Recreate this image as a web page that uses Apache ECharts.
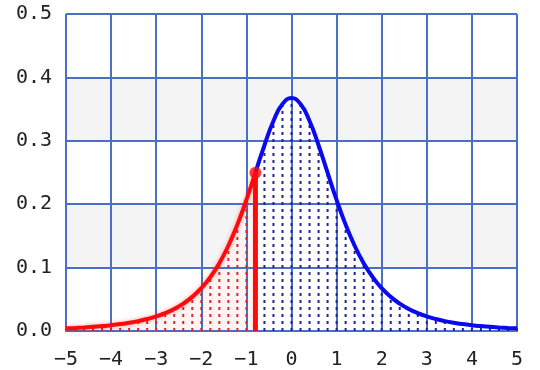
<!DOCTYPE html>
<html><head><meta charset="utf-8">
<script src="https://cdn.jsdelivr.net/npm/echarts@6/dist/echarts.min.js"></script>
<style>html,body{margin:0;padding:0;background:#fff}#c{width:540px;height:370px}</style>
</head><body><div id="c"></div>
<script>
const xValues = [-5,-4.8,-4.6,-4.4,-4.2,-4,-3.8,-3.6,-3.4,-3.2,-3,-2.8,-2.6,-2.4,-2.2,-2,-1.8,-1.6,-1.4,-1.2,-1,-0.8,-0.6,-0.4,-0.2,0,
  0.2,0.4,0.6,0.8,1,1.2,1.4,1.6,1.8,2,2.2,2.4,2.6,2.8,3,3.2,3.4,3.6,3.8,4,4.2,4.4,4.6,4.8,5];
const yValues = [0.0042,0.0049,0.0057,0.0066,0.0078,0.0092,0.0109,0.0130,0.0156,0.0189,0.0230,0.0282,0.0347,0.0431,0.0538,0.0675,0.0850,0.1070,0.1345,0.1678,0.2067,0.2497,0.2930,0.3313,0.3580,0.3676,
  0.3580,0.3313,0.2930,0.2497,0.2067,0.1678,0.1345,0.1070,0.0850,0.0675,0.0538,0.0431,0.0347,0.0282,0.0230,0.0189,0.0156,0.0130,0.0109,0.0092,0.0078,0.0066,0.0057,0.0049,0.0042];
const splitX = -0.8;
const xRange = [-5, 5, 1];
const yRange = [0, 0.5, 0.1];

const pts = xValues.map((x, i) => [x, yValues[i]]);
const eps = 1e-9;
const leftPts = pts.filter(p => p[0] <= splitX + eps);
const rightPts = pts.filter(p => p[0] >= splitX - eps);
const splitPt = pts.find(p => Math.abs(p[0] - splitX) < eps);
const dotPts = pts.filter(p => Math.abs(p[0] - splitX) > eps);

const gridColor = '#4a6fc9';
const labelStyle = { fontFamily: 'DejaVu Sans Mono', fontSize: 20, color: '#222' };

const chart = echarts.init(document.getElementById('c'), null, { renderer: 'canvas' });
const option = {
  animation: false,
  grid: { left: 66, right: 23, top: 14, bottom: 39 },
  xAxis: [
    { type: 'value', min: xRange[0], max: xRange[1], interval: xRange[2], position: 'bottom',
      axisLine: { show: false }, axisTick: { show: false }, axisLabel: { show: false }, splitLine: { show: false } },
    { type: 'value', min: xRange[0], max: xRange[1], interval: xRange[2], position: 'bottom', z: 1.5,
      axisLine: { show: true, lineStyle: { color: gridColor, width: 2 } }, axisTick: { show: false },
      axisLabel: Object.assign({ margin: 19, formatter: v => String(v).replace('-', '\u2212') }, labelStyle),
      splitLine: { show: true, lineStyle: { color: gridColor, width: 2 } } }
  ],
  yAxis: [
    { type: 'value', min: yRange[0], max: yRange[1], interval: yRange[2], position: 'left',
      axisLine: { show: false }, axisTick: { show: false }, axisLabel: { show: false }, splitLine: { show: false },
      splitArea: { show: true, areaStyle: { color: ['#ffffff', '#f4f4f4'] } } },
    { type: 'value', min: yRange[0], max: yRange[1], interval: yRange[2], position: 'left', z: 1.5,
      axisLine: { show: true, lineStyle: { color: gridColor, width: 2 } }, axisTick: { show: false },
      axisLabel: Object.assign({ margin: 14, formatter: v => v.toFixed(1) }, labelStyle),
      splitLine: { show: true, lineStyle: { color: gridColor, width: 2 } } }
  ],
  series: [
    { type: 'line', data: rightPts, xAxisIndex: 0, yAxisIndex: 0, smooth: true, symbol: 'none', z: 1,
      lineStyle: { width: 0 }, areaStyle: { color: '#ffffff', opacity: 1 } },
    { type: 'line', data: leftPts, xAxisIndex: 0, yAxisIndex: 0, smooth: true, symbol: 'none', z: 1,
      lineStyle: { width: 0 }, areaStyle: { color: '#fff3f3', opacity: 1 } },
    { type: 'custom', data: dotPts, xAxisIndex: 0, yAxisIndex: 0, z: 3,
      renderItem: (params, api) => {
        const x = api.value(0), y = api.value(1);
        const p0 = api.coord([x, 0]), p1 = api.coord([x, y]);
        return { type: 'line', shape: { x1: p0[0], y1: p0[1], x2: p1[0], y2: p1[1] },
          style: { stroke: x < splitX ? '#d42a2a' : '#22229c', lineWidth: 2, lineDash: [3, 4] } };
      } },
    { type: 'line', data: rightPts, xAxisIndex: 0, yAxisIndex: 0, smooth: true, symbol: 'none', z: 4,
      lineStyle: { width: 4, color: '#0a0af0' } },
    { type: 'line', data: leftPts, xAxisIndex: 0, yAxisIndex: 0, smooth: true, symbol: 'none', z: 4,
      lineStyle: { width: 4, color: '#ff0a0a', shadowColor: 'rgba(255,0,0,0.35)', shadowBlur: 4 } },
    { type: 'custom', data: [splitPt], xAxisIndex: 0, yAxisIndex: 0, z: 5,
      renderItem: (params, api) => {
        const x = api.value(0), y = api.value(1);
        const p0 = api.coord([x, 0]), p1 = api.coord([x, y]);
        return { type: 'line', shape: { x1: p0[0], y1: p0[1], x2: p1[0], y2: p1[1] },
          style: { stroke: '#ff0a0a', lineWidth: 5 } };
      } },
    { type: 'scatter', data: [splitPt], xAxisIndex: 0, yAxisIndex: 0, z: 6, symbolSize: 12,
      itemStyle: { color: '#ff0a0a' } }
  ]
};
chart.setOption(option);
</script></body></html>
